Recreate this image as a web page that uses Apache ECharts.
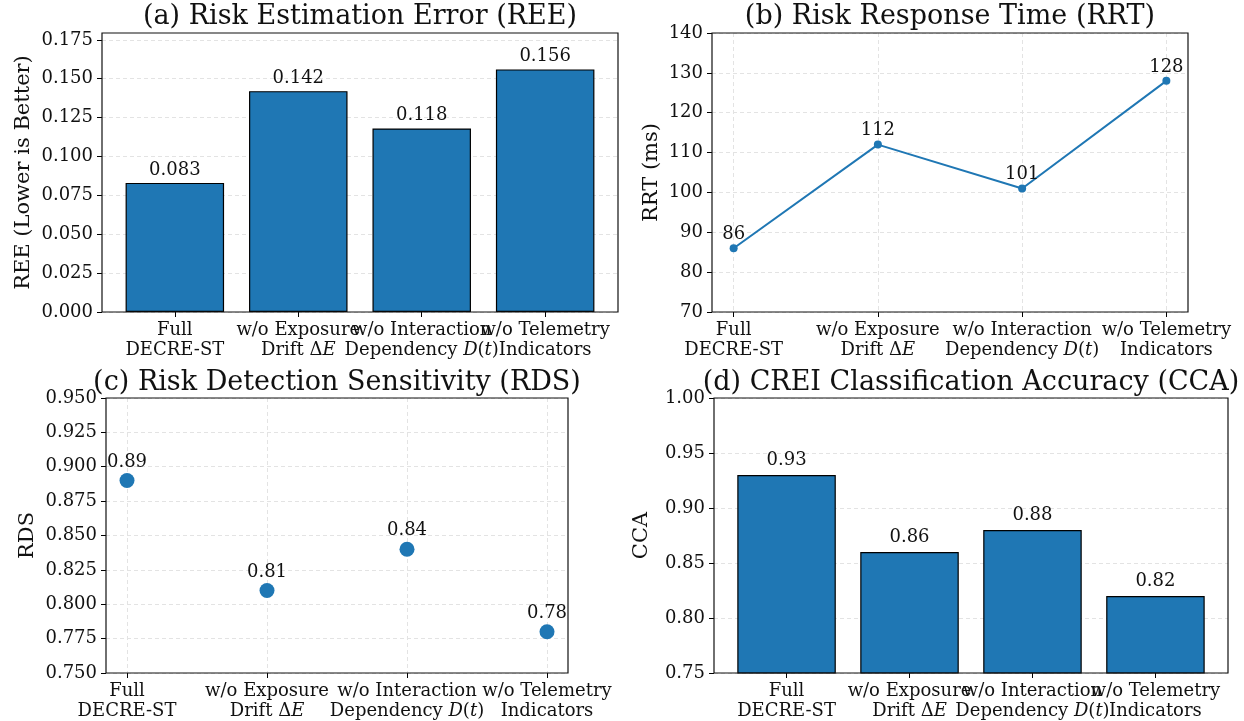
<!DOCTYPE html>
<html><head><meta charset="utf-8">
<script src="https://cdn.jsdelivr.net/npm/echarts@6/dist/echarts.min.js"></script>
<style>html,body{margin:0;padding:0;background:#fff}#c{width:1244px;height:721px}</style>
</head><body><div id="c"></div>
<script>
// ---- data ----
const categories = ['Full\nDECRE-ST', 'w/o Exposure\nDrift Δ{i|E}', 'w/o Interaction\nDependency {i|D}({i|t})', 'w/o Telemetry\nIndicators'];
const categoryPositions = [0, 1, 2, 3];
const reeValues = [0.083, 0.142, 0.118, 0.156];
const rrtValues = [86, 112, 101, 128];
const rdsValues = [0.89, 0.81, 0.84, 0.78];
const ccaValues = [0.93, 0.86, 0.88, 0.82];
const reeTicks = [0, 0.025, 0.05, 0.075, 0.1, 0.125, 0.15, 0.175];
const rrtTicks = [70, 80, 90, 100, 110, 120, 130, 140];
const rdsTicks = [0.75, 0.775, 0.8, 0.825, 0.85, 0.875, 0.9, 0.925, 0.95];
const ccaTicks = [0.75, 0.8, 0.85, 0.9, 0.95, 1.0];
const panelTitles = ['(a) Risk Estimation Error (REE)', '(b) Risk Response Time (RRT)', '(c) Risk Detection Sensitivity (RDS)', '(d) CREI Classification Accuracy (CCA)'];
const yNames = ['REE (Lower is Better)', 'RRT (ms)', 'RDS', 'CCA'];

// ---- styling ----
const FONT = 'DejaVu Serif';
const BLUE = '#1f77b4';
const grids = [
  {left: 102, top: 33, width: 516, height: 279},
  {left: 712, top: 33, width: 476, height: 279},
  {left: 106, top: 398, width: 462, height: 279},
  {left: 714, top: 398, width: 514, height: 279}
];
const gridLine = {show: true, lineStyle: {color: '#e3e3e3', type: [4, 3], width: 1}};
// labels are split over two coincident x axes so neighbouring long labels are never auto-hidden
const evenPositions = categoryPositions.filter(p => p % 2 === 0);
const oddPositions = categoryPositions.filter(p => p % 2 === 1);

function xAxis(i, barMode, showSplit, labelPositions, primary) {
  return {
    type: 'value', gridIndex: i, position: 'bottom',
    min: barMode ? -0.59 : -0.15, max: barMode ? 3.59 : 3.15,
    axisLine: {show: false, onZero: false},
    axisTick: {show: primary, length: 5, lineStyle: {color: '#000', width: 1}, customValues: categoryPositions},
    axisLabel: {
      customValues: labelPositions, margin: 8, showMinLabel: true, showMaxLabel: true, hideOverlap: false,
      formatter: v => categories[Math.round(v)],
      fontFamily: FONT, fontSize: 18, color: '#111', lineHeight: 20,
      rich: {i: {fontFamily: FONT, fontStyle: 'italic', fontSize: 18, color: '#111', lineHeight: 20}}
    },
    splitLine: (showSplit && primary) ? gridLine : {show: false}
  };
}
function xPair(i, barMode, showSplit) {
  return [xAxis(i, barMode, showSplit, evenPositions, true), xAxis(i, barMode, showSplit, oddPositions, false)];
}
function yAxis(i, min, max, ticks, dec, name, gap) {
  return {
    type: 'value', gridIndex: i, min: min, max: max,
    name: name, nameLocation: 'middle', nameGap: gap, nameRotate: 90,
    nameTextStyle: {fontFamily: FONT, fontSize: 21, color: '#111'},
    axisLine: {show: false, onZero: false},
    axisTick: {show: true, length: 5, lineStyle: {color: '#000', width: 1}, customValues: ticks},
    axisLabel: {customValues: ticks, margin: 9, showMinLabel: true, showMaxLabel: true, fontFamily: FONT, fontSize: 18, color: '#111',
      formatter: v => dec === 0 ? String(Math.round(v)) : v.toFixed(dec)},
    splitLine: gridLine
  };
}
const labelStyle = {fontFamily: FONT, fontSize: 18, color: '#111'};

const titleGraphics = panelTitles.map((t, i) => ({
  type: 'text',
  x: grids[i].left + grids[i].width / 2,
  y: i < 2 ? 17 : 383,
  style: {text: t, font: '27px "' + FONT + '"', fill: '#111', textAlign: 'center', textVerticalAlign: 'middle'},
  z: 100
}));

const option = {
  animation: false,
  backgroundColor: '#fff',
  grid: grids.map(g => Object.assign({show: true, z: 10, borderColor: '#111', borderWidth: 1.2, backgroundColor: 'transparent', containLabel: false}, g)),
  xAxis: [].concat(xPair(0, true, false), xPair(1, false, true), xPair(2, false, true), xPair(3, true, false)),
  yAxis: [
    yAxis(0, 0, 0.1794, reeTicks, 3, yNames[0], 68),
    yAxis(1, 70, 140, rrtTicks, 0, yNames[1], 50),
    yAxis(2, 0.75, 0.95, rdsTicks, 3, yNames[2], 68),
    yAxis(3, 0.75, 1.0, ccaTicks, 2, yNames[3], 62)
  ],
  graphic: titleGraphics,
  series: [
    {type: 'bar', xAxisIndex: 0, yAxisIndex: 0, barWidth: 98.5,
      data: reeValues.map((v, i) => [categoryPositions[i], v]),
      itemStyle: {color: BLUE, borderColor: '#000', borderWidth: 1.2},
      label: Object.assign({show: true, position: 'top', distance: 4, formatter: p => p.value[1].toFixed(3)}, labelStyle)},
    {type: 'line', xAxisIndex: 2, yAxisIndex: 1,
      data: rrtValues.map((v, i) => [categoryPositions[i], v]),
      symbol: 'circle', symbolSize: 8, lineStyle: {color: BLUE, width: 2}, itemStyle: {color: BLUE},
      label: Object.assign({show: true, position: 'top', distance: 1, formatter: p => String(p.value[1])}, labelStyle)},
    {type: 'scatter', xAxisIndex: 4, yAxisIndex: 2, symbolSize: 15,
      data: rdsValues.map((v, i) => [categoryPositions[i], v]),
      itemStyle: {color: BLUE, opacity: 1},
      label: Object.assign({show: true, position: 'top', distance: 2, formatter: p => p.value[1].toFixed(2)}, labelStyle)},
    {type: 'bar', xAxisIndex: 6, yAxisIndex: 3, barWidth: 98.5,
      data: ccaValues.map((v, i) => [categoryPositions[i], v]),
      itemStyle: {color: BLUE, borderColor: '#000', borderWidth: 1.2},
      label: Object.assign({show: true, position: 'top', distance: 6, formatter: p => p.value[1].toFixed(2)}, labelStyle)}
  ]
};
const chart = echarts.init(document.getElementById('c'), null, {renderer: 'canvas'});
chart.setOption(option);
</script></body></html>
